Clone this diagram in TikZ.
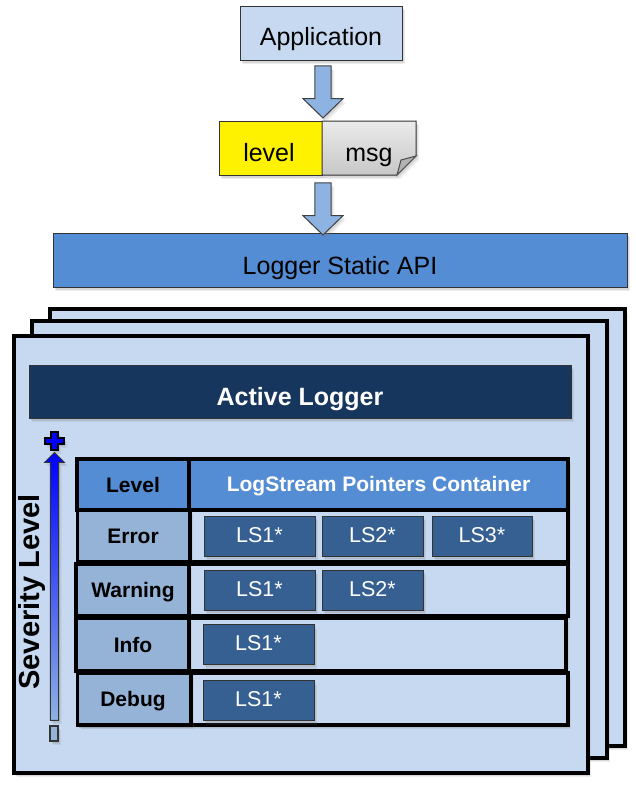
\documentclass[tikz,border=0pt]{standalone}
\usepackage{fontspec}
\setmainfont{Liberation Sans}
\usetikzlibrary{shapes.arrows}
\usetikzlibrary{shadows}
\definecolor{sheetblue}{HTML}{C6D9F0}
\definecolor{midblue}{HTML}{548DD4}
\definecolor{cellblue}{HTML}{95B3D7}
\definecolor{lsblue}{HTML}{366092}
\definecolor{navyblue}{HTML}{17365D}
\definecolor{arrowblue}{HTML}{8DB3E2}
\definecolor{scalemid}{HTML}{6A8CF5}
\tikzset{
	softshadow/.style={drop shadow={opacity=0.14, shadow xshift=3pt, shadow yshift=-4pt}, drop shadow={opacity=0.2, shadow xshift=1.5pt, shadow yshift=-2.5pt}},
	plainbox/.style={draw=black!80, line width=1pt, inner sep=0pt, softshadow, font=\fontsize{25}{25}\selectfont},
	sheetbox/.style={draw=black, line width=3.5pt, fill=sheetblue, inner sep=0pt, softshadow},
	downarrow/.style={single arrow, draw=black!75, line width=1pt, fill=arrowblue, inner sep=0pt, shape border rotate=270, minimum width=40pt, minimum height=52pt, single arrow head extend=10.5pt, single arrow tip angle=92, single arrow head indent=0pt, softshadow},
	rowcell/.style={draw=black, line width=3.5pt, inner sep=0pt, softshadow, font=\fontsize{21}{21}\selectfont\bfseries},
	lsbox/.style={draw=black!80, line width=1pt, fill=lsblue, inner sep=0pt, softshadow, text=white, font=\fontsize{21.5}{21.5}\selectfont, minimum height=40pt, text height=12.5pt, text depth=0pt},
}
\begin{document}
\begin{tikzpicture}[x=1pt, y=-1pt]
	\useasboundingbox (0,0) rectangle (635,785);
	% top of the stack
	\node (application) [plainbox, fill=sheetblue, minimum width=162pt, minimum height=54pt, text height=24pt, text depth=0pt] at (321,33) {Application};
	\node (arrowone) [downarrow] at (323,88) {\phantom{\rule{13.4pt}{13.4pt}}};
	\node (level) [plainbox, fill=yellow, minimum width=103pt, minimum height=54pt] at (270.5,148) {};
	\node (leveltext) at (269,161) [anchor=base, font=\fontsize{25}{25}\selectfont] {level};
	\draw[draw=black!80, line width=1pt, top color=black!8, bottom color=black!22, softshadow] (322,121) -- (416,121) -- (416,156) -- (397,175) -- (322,175) -- cycle;
	\draw[draw=black!70, line width=1pt, fill=black!30] (416,156) -- (401,160) -- (397,175) -- cycle;
	\node (msg) at (369,161) [anchor=base, font=\fontsize{25}{25}\selectfont] {msg};
	\node (api) [plainbox, fill=midblue, minimum width=574pt, minimum height=54pt, text height=28pt, text depth=0pt] at (340,260) {Logger Static API};
	\node (arrowtwo) [downarrow] at (323,205) {\phantom{\rule{13.4pt}{13.4pt}}};
	% the three sheets
	\foreach \l/\t/\r/\b in {50/309/625/746, 32/321/607/758, 14/336/588/773}
		\draw[sheetbox] (\l,\t) rectangle (\r,\b);
	\node (active) [draw=black!80, line width=1pt, fill=navyblue, inner sep=0pt, softshadow, minimum width=542pt, minimum height=53pt, text=white, text height=27pt, text depth=0pt, font=\fontsize{25}{25}\selectfont\bfseries] at (300,391.5) {Active Logger};
	% severity scale
	\node (severity) [rotate=90, font=\fontsize{29}{29}\selectfont\bfseries] at (32,592) {Severity Level};
	\draw[draw=black, line width=1.2pt, fill=blue, softshadow] (51,432) -- (58,432) -- (58,438) -- (64,438) -- (64,444) -- (58,444) -- (58,450) -- (51,450) -- (51,444) -- (45,444) -- (45,438) -- (51,438) -- cycle;
	\node (scale) [single arrow, draw=black!80, line width=1pt, top color=blue, middle color=scalemid, bottom color=arrowblue, inner sep=0pt, shape border rotate=90, minimum width=20pt, minimum height=268pt, single arrow head extend=5.5pt, single arrow tip angle=90, single arrow head indent=0pt, softshadow] at (54.5,588.5) {\phantom{\rule{6.4pt}{6.4pt}}};
	\node (scaleend) [draw=black!80, line width=1.2pt, fill=cellblue, inner sep=0pt, minimum width=8pt, minimum height=15pt, softshadow] at (54,733.5) {};
	% table
	\node (rowhead) [rowcell, fill=midblue, minimum width=379pt, minimum height=51pt, text=white, text height=14.5pt, text depth=0pt] at (378.5,484.5) {LogStream Pointers Container};
	\node (levelhead) [rowcell, fill=midblue, minimum width=112pt, minimum height=51pt, text height=15pt, text depth=0pt] at (133,484.5) {Level};
	\foreach \n/\l/\s/\r/\t/\b/\txt in {err/77.5/190/568/510/562/Error, warn/76/189/568/564/616/Warning, info/76/189/566/618/671/Info, dbg/77.5/191/568/673/725/Debug}{
		\draw[rowcell, fill=sheetblue] (\l,\t) rectangle (\r,\b);
		\draw[rowcell, fill=cellblue] (\l,\t) rectangle (\s,\b);
		\node (\n) [text height=15pt, text depth=0pt, font=\fontsize{21}{21}\selectfont\bfseries] at (133,\t/2+\b/2) {\txt};
	}
	% pointers
	\node (errone) [lsbox, minimum width=111pt] at (259.5,536) {LS1*};
	\node (errtwo) [lsbox, minimum width=101pt] at (372.5,536) {LS2*};
	\node (errthree) [lsbox, minimum width=100pt] at (482,536) {LS3*};
	\node (warnone) [lsbox, minimum width=111pt] at (259.5,590) {LS1*};
	\node (warntwo) [lsbox, minimum width=101pt] at (372.5,590) {LS2*};
	\node (infoone) [lsbox, minimum width=111pt] at (258.5,644.5) {LS1*};
	\node (dbgone) [lsbox, minimum width=111pt] at (258.5,700.5) {LS1*};
\end{tikzpicture}
\end{document}
